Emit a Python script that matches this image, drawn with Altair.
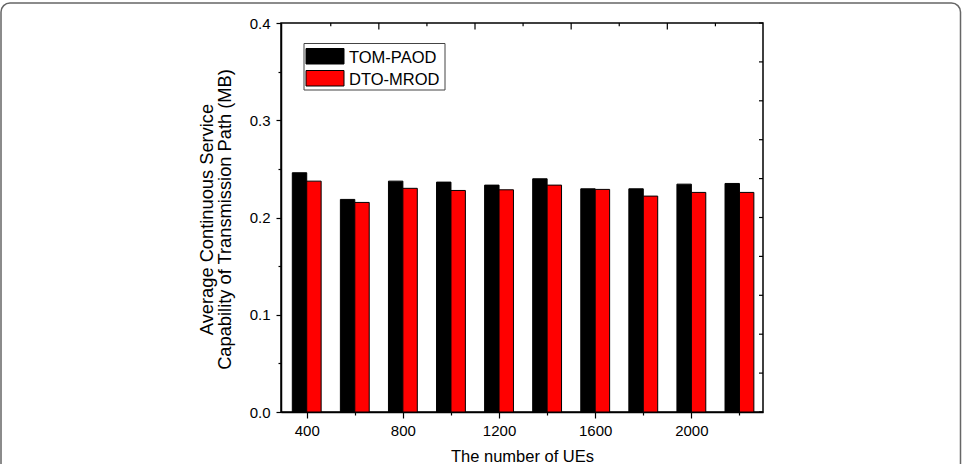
import altair as alt
import pandas as pd

# Number of UEs on the x axis
ues = [400, 600, 800, 1000, 1200, 1400, 1600, 1800, 2000, 2200]

# Average continuous service capability of the transmission path (MB)
tom_paod = [0.246, 0.2186, 0.2374, 0.2364, 0.2333, 0.2398, 0.2295, 0.2295, 0.2343, 0.235]
dto_mrod = [0.2374, 0.2155, 0.2300, 0.2278, 0.2285, 0.2333, 0.2289, 0.2220, 0.2258, 0.2258]

series_names = ["TOM-PAOD", "DTO-MROD"]
series_colors = ["#000000", "#ff0000"]

# Tick positions
y_ticks = [0.0, 0.05, 0.1, 0.15, 0.2, 0.25, 0.3, 0.35, 0.4]
top_major = [700, 1100, 1500, 1900]
top_minor = [500, 900, 1300, 1700, 2100]
right_ticks = [0.0, 0.04, 0.08, 0.12, 0.16, 0.2, 0.24, 0.28, 0.32, 0.36, 0.4]

W, H = 482, 389
FONT = "Liberation Sans"
HALF = 60  # width of one bar in x units

rows = []
for name, vals in zip(series_names, [tom_paod, dto_mrod]):
    for n, v in zip(ues, vals):
        rows.append({"ues": n, "series": name, "value": v})
df = pd.DataFrame(rows)

x_scale = alt.Scale(domain=[293, 2298], nice=False, zero=False)
y_scale = alt.Scale(domain=[0, 0.4], nice=False)

major_y = "abs(datum.value*10 - round(datum.value*10)) < 1e-6"
major_x = "datum.value % 400 == 0"

bars = (
    alt.Chart(df)
    .transform_calculate(
        x0=f"datum.series == '{series_names[0]}' ? datum.ues - {HALF} : datum.ues"
    )
    .transform_calculate(x1=f"datum.x0 + {HALF}")
    .mark_rect(stroke="#000000", strokeWidth=1)
    .encode(
        x=alt.X(
            "x0:Q",
            scale=x_scale,
            axis=alt.Axis(
                values=ues,
                format="d",
                labelExpr=f"{major_x} ? datum.label : ''",
                tickSize={"condition": {"test": major_x, "value": 6}, "value": 3},
                labelPadding=5,
                labelFontSize=15,
                title="The number of UEs",
                titleFontSize=16.5,
                titleFontWeight="normal",
                titleX=W / 2,
                titleY=49.5,
                titleBaseline="alphabetic",
                titleAlign="center",
            ),
        ),
        x2="x1:Q",
        y=alt.Y(
            "value:Q",
            scale=y_scale,
            axis=alt.Axis(
                values=y_ticks,
                format=".1f",
                labelExpr=f"{major_y} ? datum.label : ''",
                tickSize={"condition": {"test": major_y, "value": 5}, "value": 3},
                labelPadding=6,
                labelFontSize=15,
                title=["Average Continuous Service", "Capability of Transmission Path (MB)"],
                titleFontSize=18.3,
                titleFontWeight="normal",
                titleAngle=270,
                titleX=-68.5,
                titleY=196,
                titleAlign="center",
                titleBaseline="alphabetic",
                titleLineHeight=18,
            ),
        ),
        y2=alt.datum(0),
        color=alt.Color(
            "series:N",
            scale=alt.Scale(domain=series_names, range=series_colors),
            legend=None,
        ),
    )
)

# Inward ticks on the top edge
top_major_marks = (
    alt.Chart(pd.DataFrame({"t": top_major}))
    .mark_rule(color="#000000", strokeWidth=1.2)
    .encode(x=alt.X("t:Q", scale=x_scale), y=alt.value(0), y2=alt.value(6.5))
)
top_minor_marks = (
    alt.Chart(pd.DataFrame({"t": top_minor}))
    .mark_rule(color="#000000", strokeWidth=1.2)
    .encode(x=alt.X("t:Q", scale=x_scale), y=alt.value(0), y2=alt.value(3.3))
)

# Inward ticks on the right edge
right_tick_marks = (
    alt.Chart(pd.DataFrame({"t": right_ticks}))
    .mark_rule(color="#000000", strokeWidth=1.2)
    .encode(y=alt.Y("t:Q", scale=y_scale), x=alt.value(W), x2=alt.value(W - 4))
)

one = alt.Data(values=[{}])

legend_box = alt.Chart(one).mark_rect(fill="#ffffff", stroke="#444444", strokeWidth=1).encode(
    x=alt.value(23), x2=alt.value(164), y=alt.value(20.5), y2=alt.value(67)
)
legend_sw1 = alt.Chart(one).mark_rect(fill=series_colors[0], stroke="#000000", strokeWidth=1).encode(
    x=alt.value(25), x2=alt.value(63), y=alt.value(25.5), y2=alt.value(41)
)
legend_sw2 = alt.Chart(one).mark_rect(fill=series_colors[1], stroke="#000000", strokeWidth=1).encode(
    x=alt.value(25), x2=alt.value(63), y=alt.value(47.5), y2=alt.value(63)
)
legend_t1 = alt.Chart(one).mark_text(
    text=series_names[0], font=FONT, fontSize=16.5, align="left", baseline="alphabetic", color="#000000"
).encode(x=alt.value(68), y=alt.value(39.5))
legend_t2 = alt.Chart(one).mark_text(
    text=series_names[1], font=FONT, fontSize=16.5, align="left", baseline="alphabetic", color="#000000"
).encode(x=alt.value(68), y=alt.value(61.5))

# Rounded outer frame around the figure
frame = alt.Chart(one).mark_rect(fill=None, stroke="#666666", strokeWidth=1.5, cornerRadius=9).encode(
    x=alt.value(-280), x2=alt.value(679.5), y=alt.value(-20), y2=alt.value(520)
)

chart = (
    alt.layer(
        frame, bars, top_major_marks, top_minor_marks, right_tick_marks,
        legend_box, legend_sw1, legend_sw2, legend_t1, legend_t2,
    )
    .properties(
        width=W,
        height=H,
        autosize=alt.AutoSizeParams(type="none"),
        padding={"left": 281, "top": 23, "right": 200, "bottom": 52},
        background="#ffffff",
    )
    .configure_view(stroke="#000000", strokeWidth=1.5)
    .configure_axis(
        grid=False,
        domainColor="#000000",
        domainWidth=1.5,
        tickColor="#000000",
        tickWidth=1.2,
        labelColor="#000000",
        titleColor="#000000",
        labelFont=FONT,
        titleFont=FONT,
    )
)

chart.save("out.html", embed_options={"renderer": "svg", "actions": False})
